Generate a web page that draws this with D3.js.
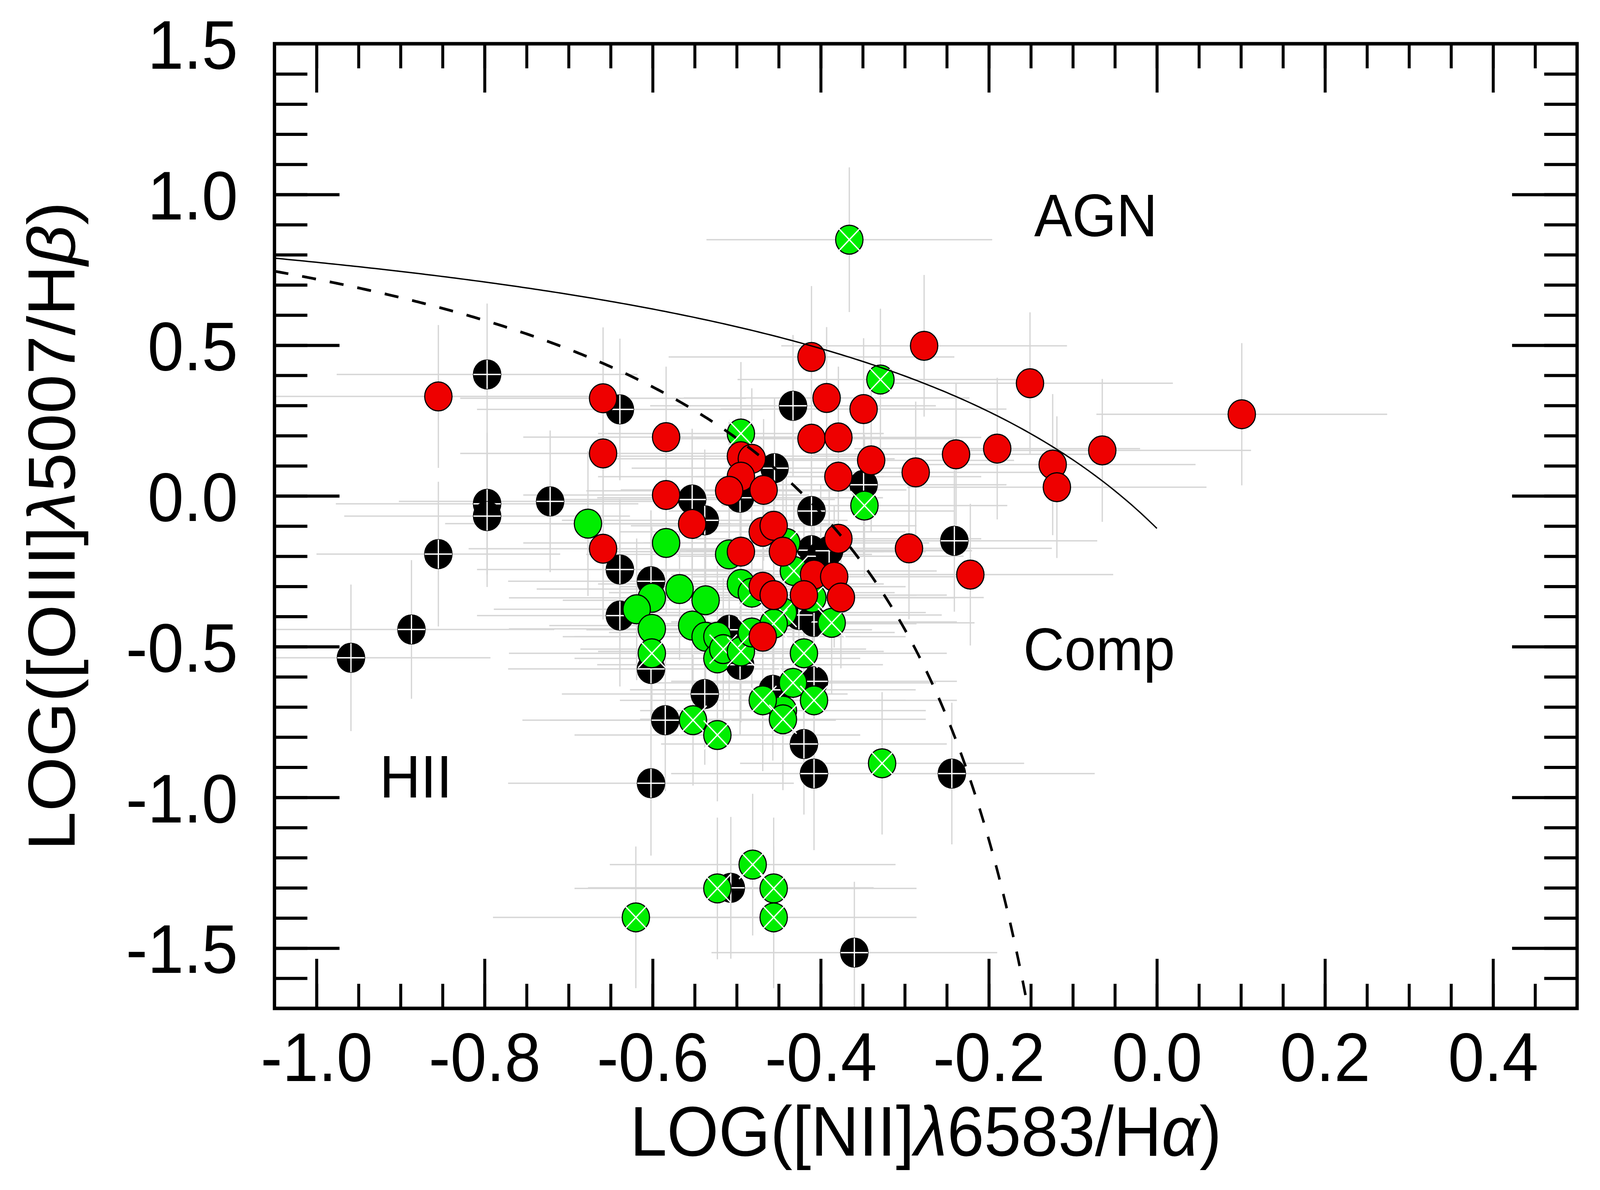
<!DOCTYPE html>
<html>
<head>
<meta charset="utf-8">
<script src="https://cdn.jsdelivr.net/npm/d3@7"></script>
<style>
  html, body { margin: 0; padding: 0; background: #fff; overflow: hidden; }
  svg { display: block; width: 100vw; height: 100vh; }
</style>
</head>
<body>
<script>
// points as [x, y, xerr, yerr]
const blackPoints = [
  [-0.959, -0.537, 0.166, 0.243], [-0.887, -0.443, 0.17, 0.23], [-0.855, -0.193, 0.145, 0.24],
  [-0.797, 0.403, 0.179, 0.235], [-0.797, -0.026, 0.18, 0.235], [-0.797, -0.067, 0.17, 0.235],
  [-0.722, -0.018, 0.18, 0.235], [-0.639, 0.287, 0.17, 0.235], [-0.639, -0.244, 0.17, 0.235],
  [-0.639, -0.397, 0.17, 0.235], [-0.602, -0.283, 0.17, 0.235], [-0.602, -0.574, 0.17, 0.235],
  [-0.602, -0.953, 0.17, 0.24], [-0.553, -0.012, 0.17, 0.235], [-0.538, -0.081, 0.17, 0.235],
  [-0.538, -0.657, 0.17, 0.235], [-0.585, -0.744, 0.17, 0.235], [-0.509, -0.444, 0.17, 0.235],
  [-0.496, -0.006, 0.17, 0.235], [-0.496, -0.560, 0.17, 0.235], [-0.455, 0.092, 0.17, 0.234],
  [-0.433, 0.299, 0.17, 0.235], [-0.411, -0.050, 0.17, 0.235], [-0.411, -0.180, 0.17, 0.235],
  [-0.400, -0.200, 0.17, 0.235], [-0.390, -0.182, 0.17, 0.235], [-0.349, 0.037, 0.17, 0.235],
  [-0.241, -0.149, 0.17, 0.235], [-0.244, -0.921, 0.17, 0.235], [-0.408, -0.921, 0.17, 0.254],
  [-0.420, -0.823, 0.17, 0.234], [-0.408, -0.615, 0.17, 0.235], [-0.408, -0.418, 0.17, 0.235],
  [-0.426, -0.395, 0.17, 0.235], [-0.457, -0.643, 0.17, 0.235], [-0.507, -1.300, 0.17, 0.235],
  [-0.360, -1.515, 0.17, 0.235]
];

const greenPoints = [
  [-0.677, -0.092, 0.17, 0.24], [-0.584, -0.156, 0.17, 0.235], [-0.568, -0.309, 0.17, 0.235],
  [-0.601, -0.338, 0.17, 0.235], [-0.619, -0.376, 0.17, 0.235], [-0.537, -0.346, 0.17, 0.235],
  [-0.601, -0.441, 0.17, 0.235], [-0.553, -0.430, 0.17, 0.235], [-0.537, -0.467, 0.17, 0.235],
  [-0.523, -0.467, 0.17, 0.235], [-0.523, -0.539, 0.17, 0.235], [-0.509, -0.194, 0.17, 0.235],
  [-0.495, -0.292, 0.17, 0.235], [-0.445, -0.712, 0.17, 0.235]
];

const greenCrossPoints = [
  [-0.366, 0.850, 0.17, 0.24], [-0.329, 0.386, 0.17, 0.235], [-0.348, -0.032, 0.17, 0.235],
  [-0.495, 0.207, 0.17, 0.237], [-0.441, -0.156, 0.17, 0.235], [-0.432, -0.249, 0.17, 0.235],
  [-0.482, -0.321, 0.17, 0.235], [-0.445, -0.387, 0.17, 0.235], [-0.601, -0.522, 0.17, 0.235],
  [-0.516, -0.508, 0.17, 0.235], [-0.495, -0.516, 0.17, 0.235], [-0.482, -0.453, 0.17, 0.235],
  [-0.456, -0.424, 0.17, 0.235], [-0.410, -0.338, 0.17, 0.235], [-0.387, -0.421, 0.17, 0.235],
  [-0.420, -0.522, 0.17, 0.235], [-0.433, -0.620, 0.17, 0.235], [-0.408, -0.678, 0.17, 0.235],
  [-0.469, -0.678, 0.17, 0.235], [-0.445, -0.741, 0.17, 0.235], [-0.552, -0.744, 0.17, 0.217],
  [-0.523, -0.793, 0.17, 0.22], [-0.327, -0.887, 0.169, 0.236], [-0.620, -1.398, 0.17, 0.235],
  [-0.523, -1.302, 0.17, 0.235], [-0.481, -1.223, 0.17, 0.235], [-0.456, -1.302, 0.17, 0.235],
  [-0.456, -1.398, 0.17, 0.235]
];

const redPoints = [
  [-0.855, 0.330, 0.2, 0.237], [-0.659, 0.324, 0.17, 0.235], [-0.659, 0.141, 0.17, 0.235],
  [-0.659, -0.175, 0.16, 0.235], [-0.584, 0.195, 0.17, 0.234], [-0.584, 0.003, 0.17, 0.235],
  [-0.553, -0.093, 0.17, 0.235], [-0.411, 0.461, 0.17, 0.235], [-0.277, 0.498, 0.17, 0.235],
  [-0.393, 0.325, 0.17, 0.235], [-0.349, 0.288, 0.17, 0.235], [-0.411, 0.190, 0.17, 0.235],
  [-0.379, 0.194, 0.17, 0.235], [-0.340, 0.118, 0.17, 0.235], [-0.379, 0.064, 0.17, 0.235],
  [-0.287, 0.078, 0.17, 0.235], [-0.239, 0.138, 0.17, 0.235], [-0.190, 0.157, 0.17, 0.235],
  [-0.151, 0.374, 0.17, 0.235], [-0.124, 0.104, 0.17, 0.234], [-0.119, 0.029, 0.178, 0.235],
  [-0.065, 0.151, 0.177, 0.237], [0.101, 0.271, 0.173, 0.236], [-0.495, 0.132, 0.17, 0.235],
  [-0.482, 0.123, 0.17, 0.234], [-0.495, 0.064, 0.17, 0.235], [-0.509, 0.017, 0.17, 0.235],
  [-0.468, 0.020, 0.17, 0.235], [-0.469, -0.119, 0.17, 0.235], [-0.456, -0.099, 0.17, 0.235],
  [-0.445, -0.185, 0.17, 0.235], [-0.495, -0.185, 0.17, 0.235], [-0.379, -0.142, 0.17, 0.235],
  [-0.295, -0.174, 0.17, 0.235], [-0.222, -0.261, 0.17, 0.235], [-0.408, -0.261, 0.17, 0.235],
  [-0.384, -0.268, 0.17, 0.235], [-0.420, -0.329, 0.17, 0.235], [-0.376, -0.337, 0.17, 0.235],
  [-0.469, -0.301, 0.17, 0.235], [-0.456, -0.329, 0.17, 0.235], [-0.469, -0.467, 0.17, 0.235]
];

const xTickValues = [-1.0, -0.8, -0.6, -0.4, -0.2, 0.0, 0.2, 0.4];
const xTickLabels = ["-1.0", "-0.8", "-0.6", "-0.4", "-0.2", "0.0", "0.2", "0.4"];
const yTickValues = [-1.5, -1.0, -0.5, 0.0, 0.5, 1.0, 1.5];
const yTickLabels = ["-1.5", "-1.0", "-0.5", "0.0", "0.5", "1.0", "1.5"];

const regionLabels = [
  {text: "AGN", x: -0.146, y: 0.861},
  {text: "Comp", x: -0.159, y: -0.578},
  {text: "HII", x: -0.925, y: -1.0}
];

// Kewley 2001 (solid) and Kauffmann 2003 (dashed) demarcation lines
const kewley = v => 0.61 / (v - 0.47) + 1.19;
const kauffmann = v => 0.61 / (v - 0.05) + 1.3;

const W = 4331, H = 3047;
const plotL = 743, plotR = 4269, plotT = 112, plotB = 2582;
const font = "'Liberation Sans', Arial, Helvetica, sans-serif";
const R = 37;

// the drawing is laid out on a 4331x3047 canvas and fills the window
const svg = d3.select("body").append("svg")
  .attr("viewBox", `0 0 ${W} ${H}`)
  .attr("preserveAspectRatio", "none");

const x = d3.scaleLinear().domain([-1.05, 0.5]).range([plotL, plotR]);
const y = d3.scaleLinear().domain([-1.7, 1.5]).range([plotB, plotT]);

svg.append("rect").attr("width", W).attr("height", H).attr("fill", "#fff");

svg.append("clipPath").attr("id", "plot")
  .append("rect")
  .attr("x", plotL).attr("y", plotT)
  .attr("width", plotR - plotL).attr("height", plotB - plotT);

// error bars under everything
const allPoints = blackPoints.concat(greenPoints, greenCrossPoints, redPoints);
const errs = svg.append("g")
  .attr("clip-path", "url(#plot)")
  .attr("stroke", "#d6d6d6")
  .attr("stroke-width", 3.5);

errs.selectAll(".ex").data(allPoints).enter().append("line")
  .attr("x1", d => x(d[0] - d[2])).attr("x2", d => x(d[0] + d[2]))
  .attr("y1", d => y(d[1])).attr("y2", d => y(d[1]));
errs.selectAll(".ey").data(allPoints).enter().append("line")
  .attr("x1", d => x(d[0])).attr("x2", d => x(d[0]))
  .attr("y1", d => y(d[1] - d[3])).attr("y2", d => y(d[1] + d[3]));

function drawGroup(data, fill, cross) {
  const g = svg.append("g");
  const m = g.selectAll("g").data(data).enter().append("g")
    .attr("transform", d => `translate(${x(d[0])},${y(d[1])})`);
  m.append("circle")
    .attr("r", R)
    .attr("fill", fill)
    .attr("stroke", "#000")
    .attr("stroke-width", 3);
  if (cross === "plus") {
    m.append("path").attr("d", `M${-R},0H${R}M0,${-R}V${R}`)
      .attr("stroke", "#fff").attr("stroke-width", 3.5);
  } else if (cross === "x") {
    m.append("path").attr("d", `M${-R},${-R}L${R},${R}M${-R},${R}L${R},${-R}`)
      .attr("stroke", "#fff").attr("stroke-width", 3.5);
  }
}

drawGroup(blackPoints, "#000", "plus");
drawGroup(greenPoints, "#00ee00", null);
drawGroup(greenCrossPoints, "#00ee00", "x");
drawGroup(redPoints, "#ee0000", null);

// demarcation curves
const line = d3.line().x(d => x(d[0])).y(d => y(d[1]));
const curves = svg.append("g").attr("clip-path", "url(#plot)").attr("fill", "none");
curves.append("path")
  .attr("d", line(d3.range(-1.05, 0.0001, 0.005).map(v => [v, kewley(v)])))
  .attr("stroke", "#000")
  .attr("stroke-width", 3.5);
curves.append("path")
  .attr("d", line(d3.range(-1.05, -0.15, 0.003).map(v => [v, kauffmann(v)])))
  .attr("stroke", "#000")
  .attr("stroke-width", 7)
  .attr("stroke-dasharray", "38,38");

// axes, ticks on all four sides
const xMinor = d3.range(-20, 10).map(i => i * 0.05);
const yMinor = d3.range(-16, 15).map(i => i / 10);

function styleAxis(g, dy) {
  g.select(".domain").remove();
  g.selectAll(".tick line").attr("stroke", "#000").attr("stroke-width", 8);
  g.attr("font-family", font).attr("font-size", 176);
  g.selectAll("text").attr("fill", "#000").attr("dy", dy || "0.36em");
}

svg.append("g").attr("transform", `translate(0,${plotB})`)
  .call(d3.axisBottom(x).tickValues(xMinor).tickSizeInner(-63).tickSizeOuter(0).tickFormat(""))
  .call(styleAxis);
svg.append("g").attr("transform", `translate(0,${plotB})`)
  .call(d3.axisBottom(x).tickValues(xTickValues).tickSizeInner(-127).tickSizeOuter(0)
    .tickPadding(61).tickFormat((d, i) => xTickLabels[i]))
  .call(styleAxis, "0.71em");
svg.append("g").attr("transform", `translate(0,${plotT})`)
  .call(d3.axisTop(x).tickValues(xMinor).tickSizeInner(-63).tickSizeOuter(0).tickFormat(""))
  .call(styleAxis);
svg.append("g").attr("transform", `translate(0,${plotT})`)
  .call(d3.axisTop(x).tickValues(xTickValues).tickSizeInner(-125).tickSizeOuter(0).tickFormat(""))
  .call(styleAxis);

svg.append("g").attr("transform", `translate(${plotL},0)`)
  .call(d3.axisLeft(y).tickValues(yMinor).tickSizeInner(-89).tickSizeOuter(0).tickFormat(""))
  .call(styleAxis);
svg.append("g").attr("transform", `translate(${plotL},0)`)
  .call(d3.axisLeft(y).tickValues(yTickValues.slice(0, -1)).tickSizeInner(-176).tickSizeOuter(0)
    .tickPadding(99).tickFormat((d, i) => yTickLabels[i]))
  .call(styleAxis);
// 1.5 label sits at the top frame
svg.append("g").attr("transform", `translate(${plotL},0)`)
  .call(d3.axisLeft(y).tickValues([1.5]).tickSizeInner(0).tickSizeOuter(0)
    .tickPadding(99).tickFormat(() => yTickLabels[6]))
  .call(styleAxis);
svg.append("g").attr("transform", `translate(${plotR},0)`)
  .call(d3.axisRight(y).tickValues(yMinor).tickSizeInner(-89).tickSizeOuter(0).tickFormat(""))
  .call(styleAxis);
svg.append("g").attr("transform", `translate(${plotR},0)`)
  .call(d3.axisRight(y).tickValues(yTickValues.slice(0, -1)).tickSizeInner(-176).tickSizeOuter(0).tickFormat(""))
  .call(styleAxis);

// frame
svg.append("rect")
  .attr("x", plotL).attr("y", plotT)
  .attr("width", plotR - plotL).attr("height", plotB - plotT)
  .attr("fill", "none")
  .attr("stroke", "#000")
  .attr("stroke-width", 9);

// region labels
svg.selectAll(".region").data(regionLabels).enter().append("text")
  .attr("x", d => x(d.x)).attr("y", d => y(d.y))
  .attr("font-family", font)
  .attr("font-size", 154)
  .text(d => d.text);

// axis titles
const xt = svg.append("text")
  .attr("x", (plotL + plotR) / 2).attr("y", 2959)
  .attr("text-anchor", "middle")
  .attr("font-family", font).attr("font-size", 180);
xt.append("tspan").text("LOG([NII]");
xt.append("tspan").attr("font-style", "italic").text("λ");
xt.append("tspan").text("6583/H");
xt.append("tspan").attr("font-style", "italic").text("α");
xt.append("tspan").text(")");

const yt = svg.append("text")
  .attr("transform", `translate(202,${(plotT + plotB) / 2}) rotate(-90)`)
  .attr("text-anchor", "middle")
  .attr("font-family", font).attr("font-size", 180);
yt.append("tspan").text("LOG([OIII]");
yt.append("tspan").attr("font-style", "italic").text("λ");
yt.append("tspan").text("5007/H");
yt.append("tspan").attr("font-style", "italic").text("β");
yt.append("tspan").text(")");
</script>
</body>
</html>
